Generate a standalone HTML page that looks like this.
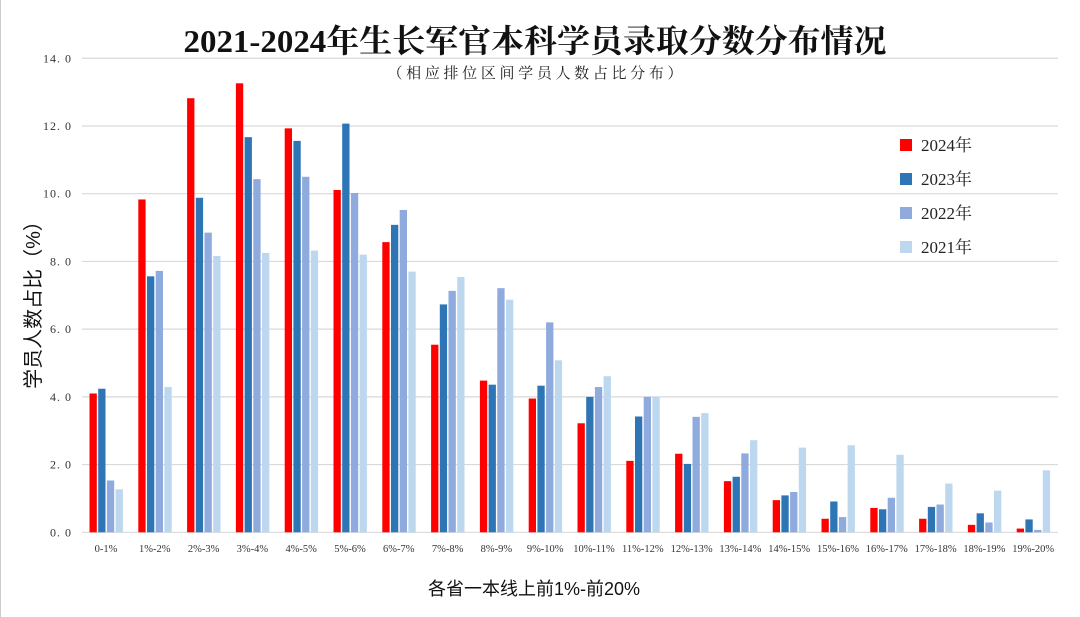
<!DOCTYPE html>
<html><head><meta charset="utf-8"><style>
html,body{margin:0;padding:0;background:#fff;}
svg{display:block;}
</style></head><body>
<svg width="1080" height="617" xmlns="http://www.w3.org/2000/svg" font-family="'Liberation Serif','Noto Serif CJK SC',serif">
<rect width="1080" height="617" fill="#fff"/>
<line x1="0.5" y1="0" x2="0.5" y2="617" stroke="#ccc"/>
<text x="535" y="52" text-anchor="middle" font-size="32" font-weight="bold" textLength="703" lengthAdjust="spacingAndGlyphs" fill="#111">2021-2024年生长军官本科学员录取分数分布情况</text>
<text x="535" y="78" text-anchor="middle" font-size="15" textLength="295" lengthAdjust="spacing" fill="#222">（相应排位区间学员人数占比分布）</text>
<g id="grid" stroke="#d9d9d9" stroke-width="1.2"></g>
<g id="yl" font-size="12" fill="#333" text-anchor="end" letter-spacing="1"></g>
<g id="bars"></g>
<g id="xl" font-size="10.5" fill="#333" text-anchor="middle"></g>
<text transform="translate(40,300) rotate(-90)" text-anchor="middle" font-family="'Liberation Sans','Noto Sans CJK SC',sans-serif" font-size="20" fill="#111">学员人数占比（%）</text>
<text x="534" y="595" text-anchor="middle" font-family="'Liberation Sans','Noto Sans CJK SC',sans-serif" font-size="18" fill="#111">各省一本线上前1%-前20%</text>
<g font-size="17" fill="#222">
<rect x="900" y="139" width="12" height="12" fill="#ff0000"/><text x="921" y="151">2024年</text>
<rect x="900" y="173" width="12" height="12" fill="#2e75b6"/><text x="921" y="185">2023年</text>
<rect x="900" y="207" width="12" height="12" fill="#8faadc"/><text x="921" y="219">2022年</text>
<rect x="900" y="241" width="12" height="12" fill="#bdd7ee"/><text x="921" y="253">2021年</text>
</g>
</svg>
<script>
var ns="http://www.w3.org/2000/svg";
function el(t,a,p,txt){var e=document.createElementNS(ns,t);for(var k in a)e.setAttribute(k,a[k]);if(txt!=null)e.textContent=txt;document.getElementById(p).appendChild(e);}
var base=532.3,u=33.86;
for(var i=0;i<=7;i++){var y=base-i*2*u;el('line',{x1:82,x2:1058,y1:y,y2:y},'grid');el('text',{x:72,y:y+4},'yl',(i*2)+'. 0');}
var d=[[4.10,4.24,1.53,1.27],[9.83,7.56,7.72,4.29],[12.82,9.88,8.85,8.16],[13.26,11.67,10.43,8.25],[11.93,11.56,10.50,8.32],[10.11,12.07,10.02,8.20],[8.57,9.08,9.52,7.70],[5.54,6.73,7.13,7.54],[4.48,4.36,7.21,6.87],[3.95,4.33,6.20,5.08],[3.22,4.00,4.29,4.61],[2.11,3.42,4.0,4.0],[2.32,2.02,3.41,3.52],[1.51,1.64,2.33,2.72],[0.95,1.09,1.19,2.50],[0.40,0.91,0.45,2.57],[0.72,0.68,1.02,2.29],[0.40,0.75,0.82,1.44],[0.22,0.56,0.29,1.23],[0.11,0.38,0.07,1.83]];
var c=['#ff0000','#2e75b6','#8faadc','#bdd7ee'];
for(var g=0;g<20;g++){var x0=89.5+g*48.8;for(var s=0;s<4;s++){var h=d[g][s]*u;el('rect',{x:x0+s*8.7,y:base-h,width:7.3,height:h,fill:c[s]},'bars');}
var lab=g==0?'0-1%':(g+'%-'+(g+1)+'%');el('text',{x:x0+16.5,y:552},'xl',lab);}
</script>
</body></html>
